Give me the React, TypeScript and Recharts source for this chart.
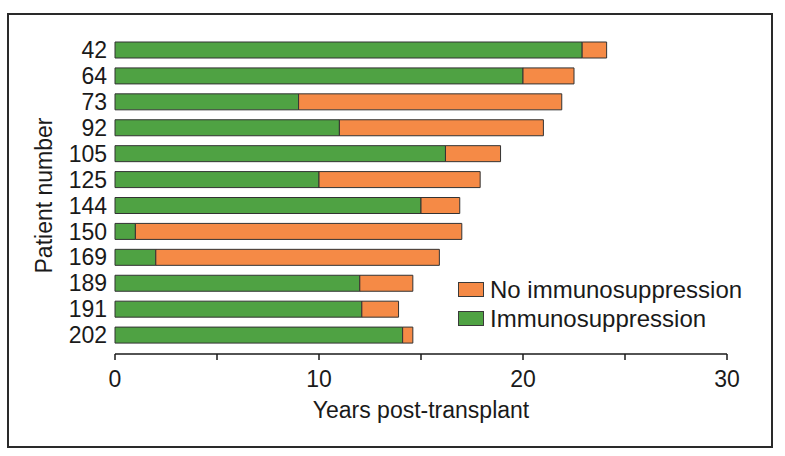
import { Bar, BarChart, Label, Legend, XAxis, YAxis } from "recharts";

const patients = ["42", "64", "73", "92", "105", "125", "144", "150", "169", "189", "191", "202"];
const immuno = [22.9, 20.0, 9.0, 11.0, 16.2, 10.0, 15.0, 1.0, 2.0, 12.0, 12.1, 14.1];
const totalYears = [24.1, 22.5, 21.9, 21.0, 18.9, 17.9, 16.9, 17.0, 15.9, 14.6, 13.9, 14.6];
const xTicks = [0, 5, 10, 15, 20, 25, 30];

const GREEN = "#4fa243";
const ORANGE = "#f58a46";
const FONT = "'Liberation Sans', Arial, sans-serif";
const FS = 23;

const data = patients.map((p, i) => ({
  patient: p,
  immuno: immuno[i],
  none: +(totalYears[i] - immuno[i]).toFixed(2),
}));

function LegendBox() {
  const items = [
    { label: "No immunosuppression", color: ORANGE },
    { label: "Immunosuppression", color: GREEN },
  ];
  return (
    <div style={{ fontFamily: FONT, fontSize: 24, color: "#1a1a1a", whiteSpace: "nowrap" }}>
      {items.map((it) => (
        <div key={it.label} style={{ display: "flex", alignItems: "center", height: 29 }}>
          <span
            style={{
              width: 24,
              height: 13,
              background: it.color,
              border: "1px solid #3a3a3a",
              marginRight: 6,
              flexShrink: 0,
            }}
          />
          {it.label}
        </div>
      ))}
    </div>
  );
}

export default function App() {
  return (
    <div style={{ position: "absolute", left: 0, top: 0, width: 785, height: 456, background: "#fff" }}>
      <div
        style={{
          position: "absolute",
          left: 7,
          top: 13,
          width: 762,
          height: 431,
          border: "2px solid #2a2a2a",
        }}
      />
      <BarChart
        width={785}
        height={456}
        data={data}
        layout="vertical"
        margin={{ top: 37, right: 58, bottom: 32, left: 0 }}
        barSize={16}
        style={{ fontFamily: FONT }}
      >
        <XAxis
          type="number"
          domain={[0, 30]}
          ticks={xTicks}
          interval={0}
          tickFormatter={(v) => (v % 10 === 0 ? String(v) : "")}
          height={70}
          tickSize={6}
          tickMargin={11}
          stroke="#1a1a1a"
          strokeWidth={1.5}
          tick={{ fontSize: FS, fill: "#1a1a1a" }}
        >
          <Label
            value="Years post-transplant"
            position="insideBottom"
            offset={6}
            style={{ fontSize: FS, fill: "#1a1a1a", fontFamily: FONT }}
          />
        </XAxis>
        <YAxis
          type="category"
          dataKey="patient"
          width={115}
          interval={0}
          axisLine={false}
          tickLine={false}
          tickSize={0}
          tickMargin={8}
          padding={{ top: 0, bottom: 6 }}
          tick={{ fontSize: FS, fill: "#1a1a1a" }}
        >
          <Label
            value="Patient number"
            angle={-90}
            position="center"
            dx={-14}
            style={{ fontSize: FS, fill: "#1a1a1a", fontFamily: FONT }}
          />
        </YAxis>
        <Legend
          layout="vertical"
          verticalAlign="middle"
          align="center"
          content={<LegendBox />}
          wrapperStyle={{ left: 458, top: 275, width: 310 }}
        />
        <Bar
          dataKey="immuno"
          stackId="a"
          fill={GREEN}
          stroke="#333"
          strokeWidth={1}
          name="Immunosuppression"
          isAnimationActive={false}
        />
        <Bar
          dataKey="none"
          stackId="a"
          fill={ORANGE}
          stroke="#333"
          strokeWidth={1}
          name="No immunosuppression"
          isAnimationActive={false}
        />
      </BarChart>
    </div>
  );
}
